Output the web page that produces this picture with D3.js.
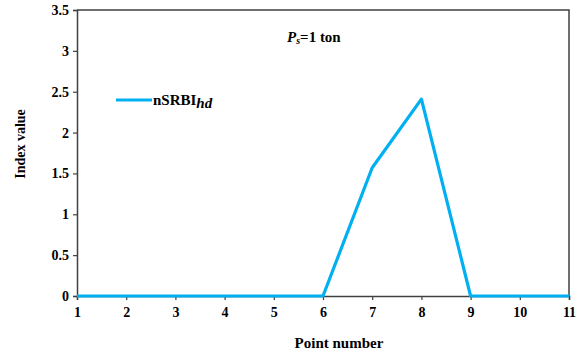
<!DOCTYPE html>
<html>
<head>
<meta charset="utf-8">
<script src="https://cdn.jsdelivr.net/npm/d3@7"></script>
<style>
  html, body { margin: 0; padding: 0; background: #fff; }
  svg text { font-family: "Liberation Serif", "Times New Roman", serif; font-weight: bold; fill: #000; }
</style>
</head>
<body>
<svg id="chart" width="581" height="360"></svg>
<script>
// Index values at each survey point
const pointNumbers = [1, 2, 3, 4, 5, 6, 7, 8, 9, 10, 11];
const indexValues  = [0, 0, 0, 0, 0, 0, 1.57, 2.41, 0, 0, 0];
const yTickValues  = [0, 0.5, 1, 1.5, 2, 2.5, 3, 3.5];
const seriesName   = "nSRBI";
const seriesSub    = "hd";

const svg = d3.select("#chart");
const margin = { left: 77, right: 12, top: 10, bottom: 64 };
const W = 581, H = 360;
const innerW = W - margin.left - margin.right;
const innerH = H - margin.top - margin.bottom;

const x = d3.scaleLinear().domain([1, 11]).range([margin.left, margin.left + innerW]);
const y = d3.scaleLinear().domain([0, 3.5]).range([margin.top + innerH, margin.top]);

const axisColor = "#404040";

// plot frame (top and right edges)
svg.append("path")
  .attr("d", `M${x(1)},${y(3.5)}H${x(11)}V${y(0)}`)
  .attr("fill", "none")
  .attr("stroke", axisColor)
  .attr("stroke-width", 1.5);

// y axis
const yAxis = svg.append("g")
  .attr("transform", `translate(${x(1)},0)`)
  .call(d3.axisLeft(y).tickValues(yTickValues).tickSize(4).tickPadding(4)
        .tickFormat(d => d3.format("")(d)));
yAxis.select(".domain").attr("stroke", axisColor).attr("stroke-width", 1.5);
yAxis.selectAll(".tick line").attr("stroke", axisColor).attr("stroke-width", 1.2);
yAxis.selectAll("text").style("font-size", "14px").attr("fill", "#000");

// x axis
const xAxis = svg.append("g")
  .attr("transform", `translate(0,${y(0)})`)
  .call(d3.axisBottom(x).tickValues(pointNumbers).tickSize(4).tickPadding(7)
        .tickFormat(d3.format("d")));
xAxis.select(".domain").attr("stroke", axisColor).attr("stroke-width", 1.5);
xAxis.selectAll(".tick line").attr("stroke", axisColor).attr("stroke-width", 1.2);
xAxis.selectAll("text").style("font-size", "14px").attr("fill", "#000");

// series line
const line = d3.line()
  .x((d, i) => x(pointNumbers[i]))
  .y(d => y(d));
svg.append("path")
  .datum(indexValues)
  .attr("d", line)
  .attr("fill", "none")
  .attr("stroke", "#00b0f0")
  .attr("stroke-width", 3.2)
  .attr("stroke-linejoin", "round");

// axis titles
svg.append("text")
  .attr("x", (x(1) + x(11)) / 2 + 16)
  .attr("y", 348)
  .attr("text-anchor", "middle")
  .style("font-size", "15px")
  .text("Point number");

svg.append("text")
  .attr("transform", `translate(25,${144}) rotate(-90)`)
  .attr("text-anchor", "middle")
  .style("font-size", "14px")
  .text("Index value");

// legend
svg.append("line")
  .attr("x1", 116).attr("x2", 152)
  .attr("y1", 100).attr("y2", 100)
  .attr("stroke", "#00b0f0")
  .attr("stroke-width", 3.2);
const leg = svg.append("text")
  .attr("x", 153).attr("y", 105)
  .style("font-size", "15px");
leg.append("tspan").text(seriesName);
leg.append("tspan").attr("dy", 3).style("font-style", "italic").text(seriesSub);

// load annotation
const ann = svg.append("text")
  .attr("x", 287).attr("y", 42)
  .style("font-size", "15px");
ann.append("tspan").style("font-style", "italic").text("P");
ann.append("tspan").attr("dy", 2).style("font-style", "italic").style("font-size", "10px").text("s");
ann.append("tspan").attr("dy", -2).text("=1 ton");
</script>
</body>
</html>
